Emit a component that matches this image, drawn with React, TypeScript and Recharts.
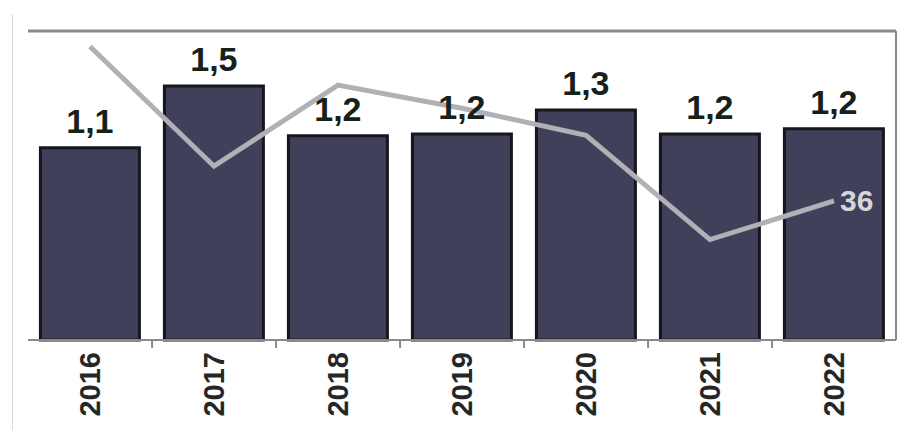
import { Bar, ComposedChart, LabelList, Line, ReferenceLine, XAxis, YAxis } from "recharts";

const years = ["2016", "2017", "2018", "2019", "2020", "2021", "2022"];
const volume = [1.12, 1.48, 1.19, 1.2, 1.34, 1.2, 1.23];
const share = [76, 45, 66, 60, 53, 26, 36];

const data = years.map((year, i) => ({ year, volume: volume[i], share: share[i] }));

const W = 911;
const H = 437;
const margin = { top: 31, right: 14, left: 28, bottom: 7 };
const band = (W - margin.left - margin.right) / years.length;

const YearTick = (props: any) => {
  const { x, y, payload, index } = props;
  return (
    <g>
      {index < years.length - 1 && (
        <line x1={x + band / 2} y1={y - 8} x2={x + band / 2} y2={y} stroke="#8a8a8a" strokeWidth={2} />
      )}
      <text
        x={x}
        y={y + 4}
        transform={`rotate(-90, ${x}, ${y + 4})`}
        textAnchor="end"
        dominantBaseline="central"
        fontSize={29}
        fontWeight="bold"
        fill="#262626"
        fontFamily="'Liberation Sans', Arial, sans-serif"
      >
        {payload.value}
      </text>
    </g>
  );
};

const LastLabel = (props: any) => {
  const { x, y, index } = props;
  if (index !== years.length - 1) return null;
  return (
    <text
      x={x + 6}
      y={y}
      dominantBaseline="central"
      fontSize={30}
      fontWeight="bold"
      fill="#d6d6da"
      fontFamily="'Liberation Sans', Arial, sans-serif"
    >
      {share[index]}
    </text>
  );
};

const App = () => {
  return (
    <div style={{ position: "absolute", left: 0, top: 0, width: W, height: H, background: "#fff" }}>
      <div style={{ position: "absolute", left: 12, top: 14, width: 1, height: 416, background: "#d8d8d8" }} />
      <ComposedChart width={W} height={H} data={data} margin={margin}>
        <XAxis
          dataKey="year"
          xAxisId="x"
          height={90}
          interval={0}
          axisLine={{ stroke: "#8a8a8a", strokeWidth: 2 }}
          tickLine={false}
          tick={<YearTick />}
        />
        <YAxis yAxisId="left" domain={[0, 1.8]} hide />
        <YAxis
          yAxisId="right"
          orientation="right"
          domain={[0, 80]}
          width={1}
          tick={false}
          tickLine={false}
          axisLine={{ stroke: "#8a8a8a", strokeWidth: 2 }}
        />
        <ReferenceLine yAxisId="left" xAxisId="x" y={1.8} stroke="#8a8a8a" strokeWidth={3} />
        <Bar
          dataKey="volume"
          xAxisId="x"
          yAxisId="left"
          fill="#41405a"
          stroke="#16161f"
          strokeWidth={3}
          barCategoryGap="12.5%"
          isAnimationActive={false}
        >
          <LabelList
            dataKey="volume"
            position="top"
            offset={15}
            formatter={(v: any) => Number(v).toFixed(1).replace(".", ",")}
            fontSize={34}
            fontWeight="bold"
            fill="#18201a"
            fontFamily="'Liberation Sans', Arial, sans-serif"
          />
        </Bar>
        <Line
          dataKey="share"
          xAxisId="x"
          yAxisId="right"
          type="linear"
          stroke="#b0b0b6"
          strokeWidth={5}
          dot={false}
          isAnimationActive={false}
        >
          <LabelList dataKey="share" content={<LastLabel />} />
        </Line>
      </ComposedChart>
    </div>
  );
};

export default App;
